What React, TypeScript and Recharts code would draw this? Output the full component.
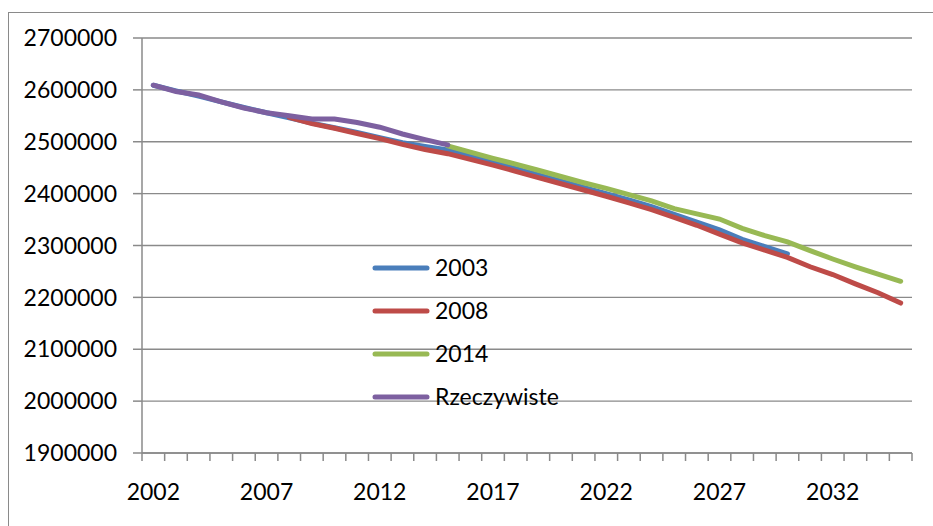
import { LineChart, Line, XAxis, YAxis, CartesianGrid, Legend } from 'recharts'

// lata na osi X (kategorie)
const years = [
  2002, 2003, 2004, 2005, 2006, 2007, 2008, 2009, 2010, 2011, 2012, 2013, 2014, 2015, 2016, 2017, 2018,
  2019, 2020, 2021, 2022, 2023, 2024, 2025, 2026, 2027, 2028, 2029, 2030, 2031, 2032, 2033, 2034, 2035,
]
const labelYears = [2002, 2007, 2012, 2017, 2022, 2027, 2032]
const yTicks = [1900000, 2000000, 2100000, 2200000, 2300000, 2400000, 2500000, 2600000, 2700000]

// prognoza z 2003 r., od 2002
const start2003 = 2002
const prognoza2003 = [
  2609000, 2598000, 2588000, 2577000, 2566000, 2556000, 2546000, 2536000, 2527000, 2518000, 2508000,
  2498000, 2491000, 2484000, 2472000, 2460000, 2448000, 2436000, 2424000, 2412000, 2400000, 2388000,
  2375000, 2360000, 2345000, 2330000, 2312000, 2298000, 2284000,
]

// prognoza z 2008 r., od 2008
const start2008 = 2008
const prognoza2008 = [
  2547000, 2535000, 2526000, 2516000, 2506000, 2495000, 2485000, 2477000, 2466000, 2455000, 2443000,
  2431000, 2419000, 2407000, 2395000, 2382000, 2369000, 2354000, 2339000, 2322000, 2305000, 2291000,
  2277000, 2259000, 2244000, 2226000, 2209000, 2189000,
]

// prognoza z 2014 r., od 2015
const start2014 = 2015
const prognoza2014 = [
  2492000, 2480000, 2468000, 2457000, 2445000, 2433000, 2421000, 2410000, 2398000, 2386000, 2371000,
  2361000, 2351000, 2333000, 2319000, 2307000, 2290000, 2274000, 2259000, 2245000, 2231000,
]

// dane rzeczywiste 2002-2015
const startReal = 2002
const rzeczywiste = [
  2609000, 2597000, 2590000, 2577000, 2565000, 2556000, 2550000, 2544000, 2544000, 2537000, 2528000,
  2515000, 2504000, 2494000,
]

const pick = (arr: number[], start: number, year: number) => arr[year - start]

const data = years.map((year) => ({
  year,
  p2003: pick(prognoza2003, start2003, year),
  p2008: pick(prognoza2008, start2008, year),
  p2014: pick(prognoza2014, start2014, year),
  real: pick(rzeczywiste, startReal, year),
}))

// Excel-style: tick marks between categories, labels in the middle
const boundaryTicks = [...years.map((y) => y - 0.5), years[years.length - 1] + 0.5]
const xTicks = [...boundaryTicks, ...labelYears]

const AXIS = '#8a8a8a'
const FONT = 'Lato, "Open Sans", sans-serif'

const XTick = ({ x, y, payload }: { x: number; y: number; payload: { value: number } }) => {
  const v = payload.value
  if (labelYears.includes(v)) {
    return (
      <text x={x} y={y + 38} textAnchor="middle" dominantBaseline="central" fill="#000" fontSize={23} fontFamily={FONT}>
        {v}
      </text>
    )
  }
  return <line x1={x} y1={y} x2={x} y2={y + 8} stroke={AXIS} strokeWidth={1.5} />
}

const LegendContent = ({ payload }: { payload?: { value: string; color: string }[] }) => (
  <div>
    {(payload || []).map((p) => (
      <div key={p.value} style={{ display: 'flex', alignItems: 'center', height: 43 }}>
        <svg width={58} height={10}>
          <line x1={3} y1={5} x2={55} y2={5} stroke={p.color} strokeWidth={5} strokeLinecap="round" />
        </svg>
        <span style={{ marginLeft: 5, fontSize: 23, fontFamily: FONT, color: '#000', lineHeight: 1 }}>{p.value}</span>
      </div>
    ))}
  </div>
)

export default function App() {
  return (
    <div style={{ position: 'absolute', left: 0, top: 0, width: 933, height: 526, overflow: 'hidden', background: '#fff' }}>
      <div
        style={{
          position: 'absolute',
          left: 8,
          top: 12,
          width: 960,
          height: 560,
          border: `1.5px solid ${AXIS}`,
        }}
      />
      <LineChart width={933} height={526} data={data} margin={{ top: 38, right: 21, left: 0, bottom: 0 }}>
        <CartesianGrid vertical={false} stroke={AXIS} strokeWidth={1.3} />
        <XAxis
          dataKey="year"
          type="number"
          domain={[2001.5, 2035.5]}
          ticks={xTicks}
          interval={0}
          tick={XTick}
          tickLine={false}
          tickSize={0}
          tickMargin={0}
          height={73}
          stroke={AXIS}
          strokeWidth={1.5}
        />
        <YAxis
          type="number"
          domain={[1900000, 2700000]}
          ticks={yTicks}
          interval={0}
          width={142}
          tickSize={9}
          tickMargin={16}
          stroke={AXIS}
          strokeWidth={1.5}
          tick={{ fill: '#000', fontSize: 23, fontFamily: FONT }}
        />
        <Legend
          layout="vertical"
          align="center"
          verticalAlign="middle"
          content={<LegendContent />}
          wrapperStyle={{ left: 372, top: 246, width: 220 }}
        />
        <Line dataKey="p2003" name="2003" stroke="#4A7EBB" strokeWidth={5} dot={false} strokeLinecap="round" isAnimationActive={false} />
        <Line dataKey="p2008" name="2008" stroke="#BE4B48" strokeWidth={5} dot={false} strokeLinecap="round" isAnimationActive={false} />
        <Line dataKey="p2014" name="2014" stroke="#98B954" strokeWidth={5} dot={false} strokeLinecap="round" isAnimationActive={false} />
        <Line dataKey="real" name="Rzeczywiste" stroke="#7D60A0" strokeWidth={5} dot={false} strokeLinecap="round" isAnimationActive={false} />
      </LineChart>
    </div>
  )
}
